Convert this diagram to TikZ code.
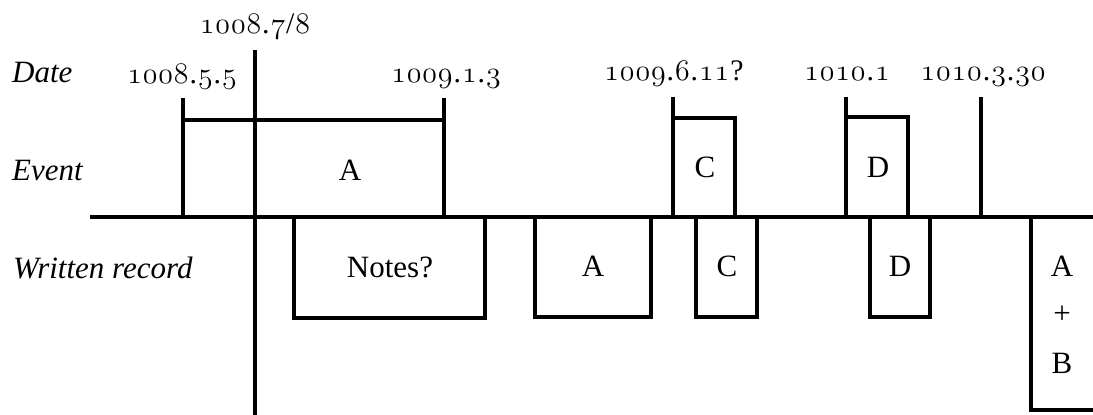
\documentclass[tikz,border=0pt]{standalone}
\usepackage{fontspec}
\usepackage{graphicx}
\setmainfont{Liberation Serif}
\makeatletter
\def\lsp#1{\scalebox{1.2}{\lsp@first#1\relax}}
\def\lsp@first#1{\lsp@one#1\lsp@}
\def\lsp@#1{\ifx#1\relax\else\kern0.8pt\lsp@one#1\expandafter\lsp@\fi}
\def\lsp@one#1{\ifnum`#1>47 \ifnum`#1<58 {\usefont{OML}{cmm}{m}{it}#1}\else#1\fi\else#1\fi}
\makeatother
\begin{document}
\begin{tikzpicture}[x=1pt,y=-1pt,
  rule/.style={line width=3.5pt,line cap=butt,line join=miter},
  lbl/.style={font=\fontsize{31}{34}\selectfont\itshape,anchor=base west,inner sep=0pt},
  dat/.style={font=\fontsize{24.88}{30}\selectfont,anchor=base,inner sep=0pt},
  let/.style={font=\fontsize{31}{34}\selectfont,anchor=base,inner sep=0pt}]
\useasboundingbox (0,0) rectangle (1093,415);
% row labels
\node[lbl] (ldate) at (12,82) {Date};
\node[lbl] (levent) at (12,180) {Event};
\node[lbl] (lwritten) at (13,278) {Written record};
% dates
\node[dat] (d1) at (255,33) {\lsp{1008.7/8}};
\node[dat] (d2) at (182,83) {\lsp{1008.5.5}};
\node[dat] (d3) at (446,82) {\lsp{1009.1.3}};
\node[dat] (d4) at (674,80) {\lsp{1009.6.11?}};
\node[dat] (d5) at (847,80) {\lsp{1010.1}};
\node[dat] (d6) at (983,80) {\lsp{1010.3.30}};
% main axes
\draw[rule] (90,217) -- (1093,217);
\draw[rule] (255,50) -- (255,415);
% event A
\draw[rule] (183,98) -- (183,217);
\draw[rule] (444,98) -- (444,217);
\draw[rule] (183,120) -- (444,120);
\node[let] (ea) at (350,180) {A};
% event C
\draw[rule] (673,97) -- (673,217);
\draw[rule] (673,118) -- (735,118) -- (735,217);
\node[let] (ec) at (705,177) {C};
% event D
\draw[rule] (846,97) -- (846,217);
\draw[rule] (846,117) -- (908,117) -- (908,217);
\node[let] (ed) at (878,177) {D};
% 1010.3.30 tick
\draw[rule] (981,97) -- (981,217);
% written records
\draw[rule] (294,217) -- (294,318) -- (485,318) -- (485,217);
\node[let] (wn) at (390,277) {Notes?};
\draw[rule] (535,217) -- (535,317) -- (651,317) -- (651,217);
\node[let] (wa) at (593,276) {A};
\draw[rule] (696,217) -- (696,317) -- (757,317) -- (757,217);
\node[let] (wc) at (727,276) {C};
\draw[rule] (870,217) -- (870,317) -- (930,317) -- (930,217);
\node[let] (wd) at (900,276) {D};
\draw[rule] (1031,217) -- (1031,410) -- (1093,410);
\node[let] (wab1) at (1062,276) {A};
\node[let,anchor=center] (wab2) at (1062,315) {+};
\node[let] (wab3) at (1062,373) {B};
\end{tikzpicture}
\end{document}
